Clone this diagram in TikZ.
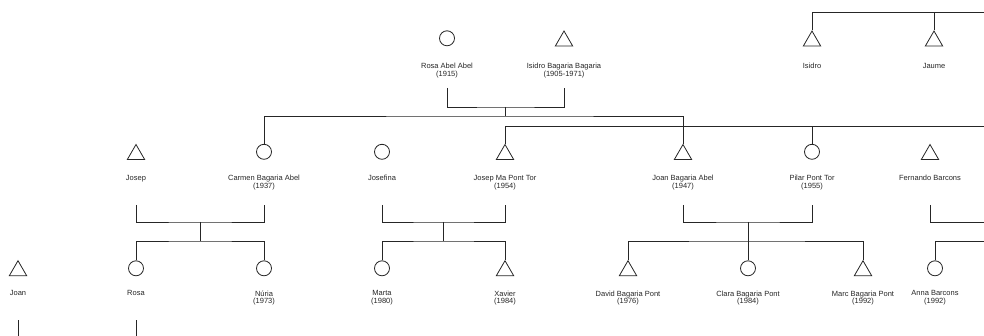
\documentclass[tikz,border=0pt]{standalone}
\usepackage{fontspec}
\setmainfont{Liberation Sans}
\usetikzlibrary{shapes.geometric}
\newcommand\lbfont{\fontsize{7.5}{7.6}\selectfont}
\begin{document}
\begin{tikzpicture}[x=1pt,y=-1pt,
  circ/.style={circle,draw=black!85,line width=0.8pt,minimum size=15pt,inner sep=0pt},
  tri/.style={regular polygon,regular polygon sides=3,draw=black!85,line width=0.8pt,minimum size=20pt,inner sep=0pt},
  lbl/.style={font=\lbfont,align=center,anchor=north,inner sep=0pt,text=black!85},
  link/.style={draw=black!85,line width=0.8pt}]
\useasboundingbox (0,0) rectangle (984,336);
% ---------- generation 0 ----------
\node[circ] (rosaAA) at (447,38.3) {};
\node[tri] (isidroBB) at (564,41) {};
\node[tri] (isidro) at (812,41) {};
\node[tri] (jaume) at (934,41) {};
\node[lbl] (l-rosaAA) at (447,62.9) {Rosa Abel Abel\\(1915)};
\node[lbl] (l-isidroBB) at (564,62.9) {Isidro Bagaria Bagaria\\(1905-1971)};
\node[lbl] (l-isidro) at (812,62.9) {Isidro};
\node[lbl] (l-jaume) at (934,62.9) {Jaume};
% ---------- generation 1 ----------
\node[tri] (josep) at (136,154.5) {};
\node[circ] (carmen) at (264,151.8) {};
\node[circ] (josefina) at (382,151.8) {};
\node[tri] (josepMa) at (505,154.5) {};
\node[tri] (joanBA) at (683,154.5) {};
\node[circ] (pilar) at (812,151.8) {};
\node[tri] (fernando) at (930,154.5) {};
\node[lbl] (l-josep) at (136,175.1) {Josep};
\node[lbl] (l-carmen) at (264,175.1) {Carmen Bagaria Abel\\(1937)};
\node[lbl] (l-josefina) at (382,175.1) {Josefina};
\node[lbl] (l-josepMa) at (505,175.1) {Josep Ma Pont Tor\\(1954)};
\node[lbl] (l-joanBA) at (683,175.1) {Joan Bagaria Abel\\(1947)};
\node[lbl] (l-pilar) at (812,175.1) {Pilar Pont Tor\\(1955)};
\node[lbl] (l-fernando) at (930,175.1) {Fernando Barcons};
% ---------- generation 2 ----------
\node[tri] (joan) at (18,270.7) {};
\node[circ] (rosa) at (136,268.3) {};
\node[circ] (nuria) at (264,268.3) {};
\node[circ] (marta) at (382,268.3) {};
\node[tri] (xavier) at (505,270.7) {};
\node[tri] (david) at (628,270.7) {};
\node[circ] (clara) at (748,268.3) {};
\node[tri] (marc) at (863,270.7) {};
\node[circ] (anna) at (935,268.3) {};
\node[lbl] (l-joan) at (18,290.4) {Joan};
\node[lbl] (l-rosa) at (136,290.4) {Rosa};
\node[lbl] (l-nuria) at (264,290.4) {Núria\\(1973)};
\node[lbl] (l-marta) at (382,290.4) {Marta\\(1980)};
\node[lbl] (l-xavier) at (505,290.4) {Xavier\\(1984)};
\node[lbl] (l-david) at (628,290.4) {David Bagaria Pont\\(1976)};
\node[lbl] (l-clara) at (748,290.4) {Clara Bagaria Pont\\(1984)};
\node[lbl] (l-marc) at (863,290.4) {Marc Bagaria Pont\\(1992)};
\node[lbl] (l-anna) at (935,290.4) {Anna Barcons\\(1992)};
% ---------- connector points ----------
\coordinate (rosaAA-b) at (447,88);
\coordinate (isidroBB-b) at (564,88);
\coordinate (u0) at (505.5,107);
\coordinate (s0) at (505.5,116);
\coordinate (e126) at (984,126);
\coordinate (e12) at (984,12);
\coordinate (josep-b) at (136,205);
\coordinate (carmen-b) at (264,205);
\coordinate (u1) at (200,222);
\coordinate (s1) at (200,241);
\coordinate (josefina-b) at (382,205);
\coordinate (josepMa-b) at (505,205);
\coordinate (u2) at (443.5,222);
\coordinate (s2) at (443.5,241);
\coordinate (joanBA-b) at (683,205);
\coordinate (pilar-b) at (812,205);
\coordinate (u3) at (748,222);
\coordinate (s3) at (748,241);
\coordinate (fernando-b) at (930,205);
\coordinate (e222) at (984,222);
\coordinate (e241) at (984,241);
\coordinate (joan-b) at (18,320);
\coordinate (joan-e) at (18,336);
\coordinate (rosa-b) at (136,320);
\coordinate (rosa-e) at (136,336);
% ---------- connectors ----------
\draw[link] (rosaAA-b) |- (u0) -| (isidroBB-b);
\draw[link] (u0) -- (s0);
\draw[link] (carmen.north) |- (s0) -| (joanBA.north);
\draw[link] (josepMa.north) |- (e126);
\draw[link] (pilar.north) -- (pilar.north |- e126);
\draw[link] (isidro.north) |- (e12);
\draw[link] (jaume.north) -- (jaume.north |- e12);
\draw[link] (josep-b) |- (u1) -| (carmen-b);
\draw[link] (u1) -- (s1);
\draw[link] (rosa.north) |- (s1) -| (nuria.north);
\draw[link] (josefina-b) |- (u2) -| (josepMa-b);
\draw[link] (u2) -- (s2);
\draw[link] (marta.north) |- (s2) -| (xavier.north);
\draw[link] (joanBA-b) |- (u3) -| (pilar-b);
\draw[link] (u3) -- (clara.north);
\draw[link] (david.north) |- (s3) -| (marc.north);
\draw[link] (fernando-b) |- (e222);
\draw[link] (anna.north) |- (e241);
\draw[link] (joan-b) -- (joan-e);
\draw[link] (rosa-b) -- (rosa-e);
\end{tikzpicture}
\end{document}
